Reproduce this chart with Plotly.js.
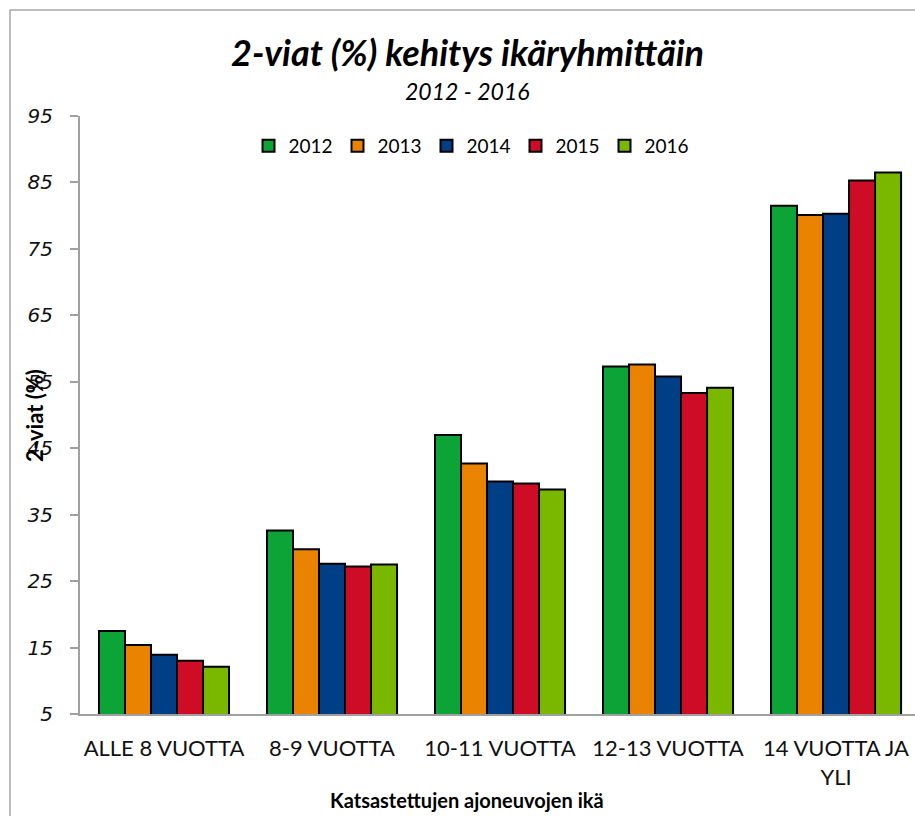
<!DOCTYPE html>
<html>
<head>
<meta charset="utf-8">
<script src="https://cdn.plot.ly/plotly-3.0.1.min.js"></script>
<style>html,body{margin:0;padding:0;background:#fff;}</style>
</head>
<body>
<div id="chart" style="width:915px;height:816px;"></div>
<script>
var categories = ['ALLE 8 VUOTTA', '8-9 VUOTTA', '10-11 VUOTTA', '12-13 VUOTTA', '14 VUOTTA JA<br>YLI'];
var years = ['2012', '2013', '2014', '2015', '2016'];
var v2012 = [17.5, 32.6, 47.0, 57.3, 81.5];
var v2013 = [15.4, 29.8, 42.7, 57.6, 80.1];
var v2014 = [13.9, 27.6, 40.0, 55.8, 80.3];
var v2015 = [13.0, 27.2, 39.7, 53.3, 85.3];
var v2016 = [12.1, 27.5, 38.8, 54.1, 86.5];
var yTicks = [5, 15, 25, 35, 45, 55, 65, 75, 85, 95];

var series = [v2012, v2013, v2014, v2015, v2016];
var colors = ['#0ca337', '#e98300', '#003e86', '#cf0c26', '#7ab800'];
var FONT = 'Lato, Open Sans, sans-serif';

var traces = series.map(function (vals, i) {
  return {
    type: 'bar',
    name: years[i],
    x: categories,
    y: vals,
    marker: { color: colors[i], line: { color: '#000000', width: 2 } },
    hoverinfo: 'x+y+name'
  };
});

var layout = {
  width: 915,
  height: 816,
  margin: { l: 80, r: 0, t: 116, b: 102, pad: 0 },
  paper_bgcolor: '#ffffff',
  plot_bgcolor: '#ffffff',
  barmode: 'group',
  bargap: 0.226,
  bargroupgap: 0,
  showlegend: true,
  legend: {
    orientation: 'h',
    x: (471 - 80) / 835, xanchor: 'center',
    y: (714 - 146) / 598, yanchor: 'middle',
    font: { family: FONT, size: 19, color: '#000000' },
    entrywidth: 44, entrywidthmode: 'pixels',
    itemwidth: 30,
    bgcolor: 'rgba(0,0,0,0)'
  },
  xaxis: {
    type: 'category',
    range: [-0.5, 4.47],
    showline: true, linecolor: '#a0a0a0', linewidth: 2,
    ticks: '', showgrid: false, zeroline: false,
    ticklabelstandoff: 14,
    tickfont: { family: FONT, size: 22, color: '#111111' },
    automargin: false
  },
  yaxis: {
    range: [5, 95],
    tickvals: yTicks,
    ticktext: yTicks.map(String),
    showline: true, linecolor: '#a0a0a0', linewidth: 2,
    ticks: 'outside', ticklen: 8, tickcolor: '#a0a0a0', tickwidth: 2,
    showgrid: false, zeroline: false,
    ticklabelstandoff: 13,
    tickfont: { family: 'DejaVu Sans, sans-serif', size: 20, color: '#111111', style: 'italic' },
    automargin: false
  },
  annotations: [
    {
      text: '<b><i>2-viat (%) kehitys ikäryhmittäin</i></b>',
      xref: 'paper', yref: 'paper', x: (467 - 80) / 835, y: (714 - 52) / 598,
      xanchor: 'center', yanchor: 'middle', showarrow: false,
      font: { family: FONT, size: 36, color: '#000000' }
    },
    {
      text: '<i>2012 - 2016</i>',
      xref: 'paper', yref: 'paper', x: (467 - 80) / 835, y: (714 - 91) / 598,
      xanchor: 'center', yanchor: 'middle', showarrow: false,
      font: { family: FONT, size: 23, color: '#000000' }
    },
    {
      text: '<b>2-viat (%)</b>',
      xref: 'paper', yref: 'paper', x: (34 - 80) / 835, y: (714 - 416) / 598,
      xanchor: 'center', yanchor: 'middle', textangle: -90, showarrow: false,
      font: { family: FONT, size: 22, color: '#000000' }
    },
    {
      text: '<b>Katsastettujen ajoneuvojen ikä</b>',
      xref: 'paper', yref: 'paper', x: (467 - 80) / 835, y: (714 - 800) / 598,
      xanchor: 'center', yanchor: 'middle', showarrow: false,
      font: { family: FONT, size: 20, color: '#000000' }
    }
  ],
  shapes: [
    {
      type: 'path', xref: 'paper', yref: 'paper',
      path: 'M -0.0838,-1 L -0.0838,1.1773 L 1.5,1.1773',
      line: { color: '#a6a6a6', width: 1.5 }
    }
  ]
};

Plotly.newPlot('chart', traces, layout, { displayModeBar: false, staticPlot: true });
</script>
</body>
</html>
